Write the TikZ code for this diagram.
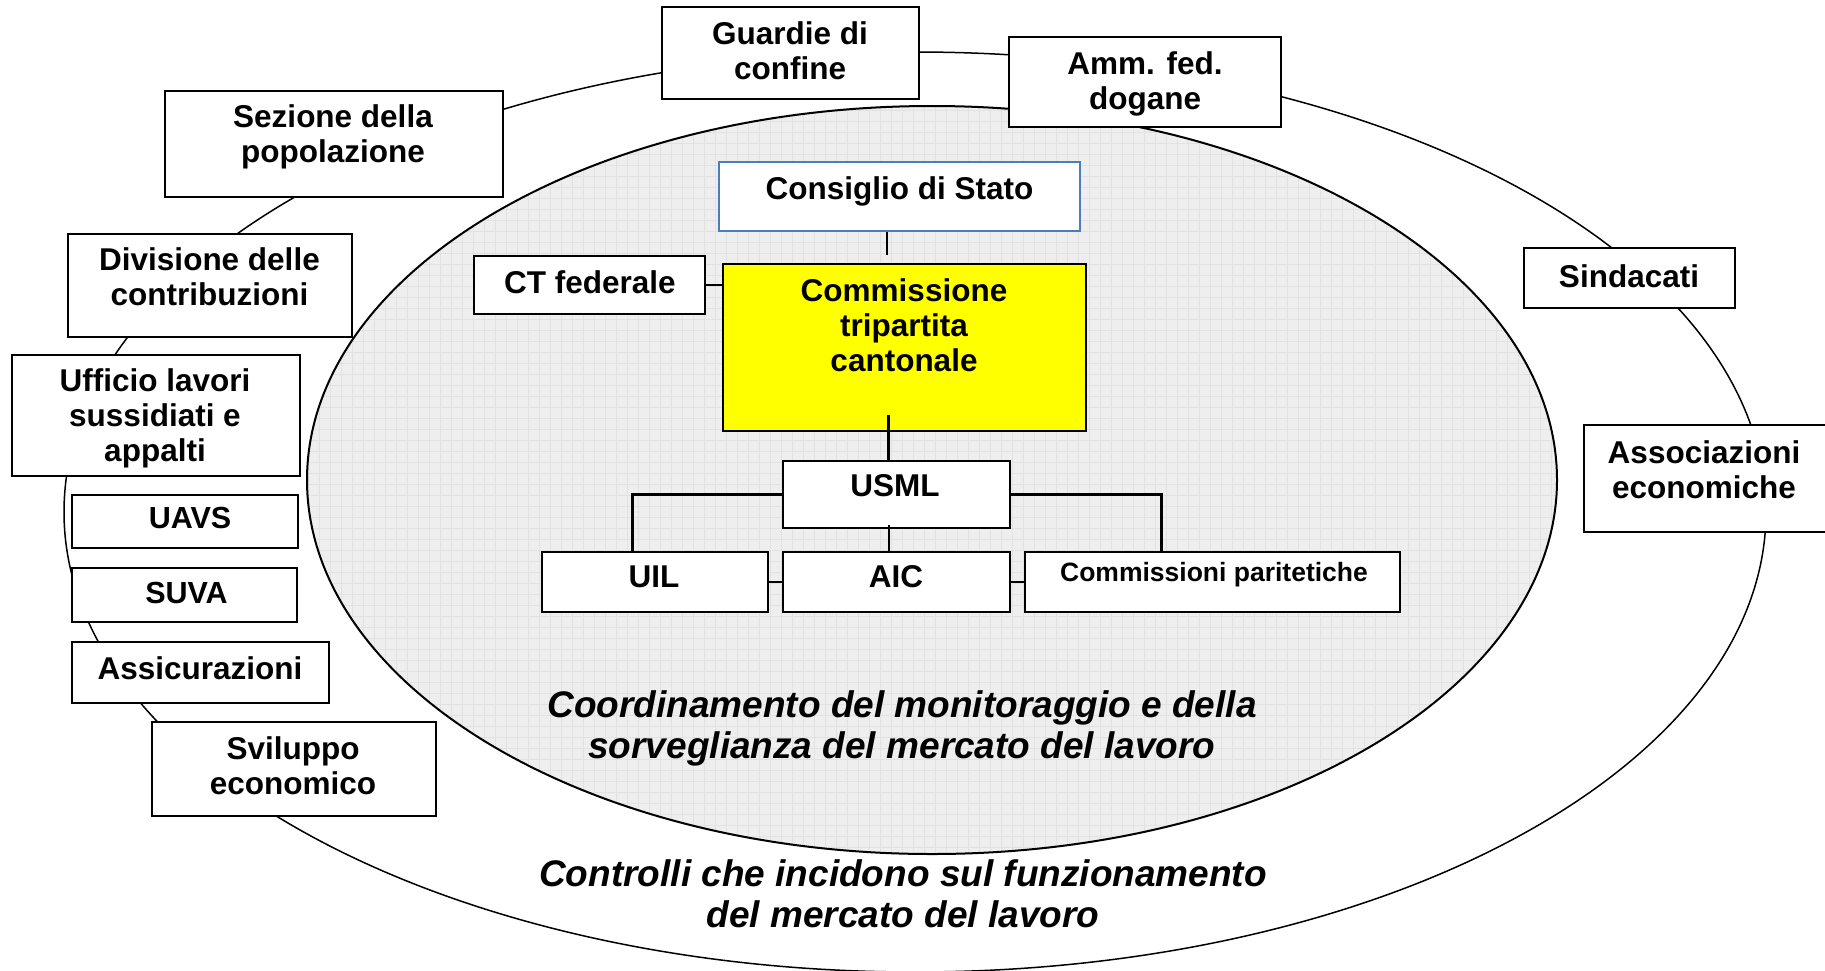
\documentclass[tikz,border=0pt]{standalone}
\usepackage{fontspec}
\setmainfont{Liberation Sans}
\definecolor{innerfill}{RGB}{238,238,238}
\definecolor{gridline}{RGB}{226,226,226}
\definecolor{consblue}{RGB}{74,126,187}
\definecolor{boxyellow}{RGB}{255,255,0}
\tikzset{
  box/.style={draw=black, fill=white, line width=1.8pt, inner sep=0pt},
  lbl/.style={font=\fontsize{31.5}{35}\selectfont\bfseries, align=center, inner sep=0pt},
  lblsm/.style={font=\fontsize{30.5}{35}\selectfont\bfseries, align=center, inner sep=0pt},
  lblcp/.style={font=\fontsize{26.5}{30}\selectfont\bfseries, align=center, inner sep=0pt},
  lblit/.style={font=\fontsize{37}{41}\selectfont\bfseries\itshape, align=center, inner sep=0pt},
  tree/.style={line width=3pt},
  thinc/.style={line width=1.3pt},
}
\begin{document}
\begin{tikzpicture}[x=1pt,y=-1pt]
\useasboundingbox (0,0) rectangle (1825,970);
% outer ellipse
\draw[line width=1.5pt] (915,512) ellipse [x radius=851, y radius=460];
% inner ellipse with grid
\begin{scope}
  \clip (932,480) ellipse [x radius=625, y radius=374];
  \fill[innerfill] (300,100) rectangle (1565,860);
  \draw[gridline, line width=0.5pt, step=11pt] (300,100) grid (1565,860);
\end{scope}
\draw[line width=2pt] (932,480) ellipse [x radius=625, y radius=374];

% outer boxes
\node[box, minimum width=257pt, minimum height=92pt] (guard) at (790.5,53) {};
\node[box, minimum width=272pt, minimum height=90pt] (amm) at (1145,82) {};
\node[box, minimum width=338pt, minimum height=106pt] (sez) at (334,144) {};
\node[box, minimum width=284pt, minimum height=103pt] (div) at (210,285.5) {};
\node[box, minimum width=288pt, minimum height=121pt] (uff) at (156,415.5) {};
\node[box, minimum width=226pt, minimum height=53pt] (uavs) at (185,521.5) {};
\node[box, minimum width=225pt, minimum height=54pt] (suva) at (184.5,595) {};
\node[box, minimum width=257pt, minimum height=61pt] (ass) at (200.5,672.5) {};
\node[box, minimum width=284pt, minimum height=94pt] (svil) at (294,769) {};
\node[box, minimum width=211pt, minimum height=60pt] (sind) at (1629.5,278) {};
\node[box, minimum width=244pt, minimum height=107pt] (asso) at (1706,478.5) {};

% inner boxes
\node[box, draw=consblue, line width=1.3pt, minimum width=361pt, minimum height=69pt] (cons) at (899.5,196.5) {};
\node[box, minimum width=231pt, minimum height=58pt] (ct) at (589.5,285) {};
\node[box, fill=boxyellow, minimum width=363pt, minimum height=167pt] (comm) at (904.5,347.5) {};
\node[box, minimum width=227pt, minimum height=67pt] (usml) at (896.5,494.5) {};
\node[box, minimum width=226pt, minimum height=60pt] (uil) at (655,582) {};
\node[box, minimum width=227pt, minimum height=60pt] (aic) at (896.5,582) {};
\node[box, minimum width=375pt, minimum height=60pt] (cp) at (1212.5,582) {};

% connectors
\draw[thinc, shorten >=8pt] ([xshift=-12.5pt]cons.south) -- ([xshift=-12.5pt]cons.south |- comm.north);
\draw[thinc] (ct.east) -- (ct.east -| comm.west);
\coordinate (ctop) at (888,415);
\draw[tree] (ctop) -- (ctop |- usml.north);
\draw[tree] (usml.west) -| ([xshift=-23pt]uil.north);
\draw[tree] (usml.east) -| ([xshift=-51.5pt]cp.north);
\draw[thinc] ([xshift=-7.5pt,yshift=4pt]usml.south) -- ([xshift=-7.5pt]aic.north);
\draw[thinc] (uil.east) -- (aic.west);
\draw[thinc] (aic.east) -- (cp.west);

% labels
\node[lbl] (tguard) at (790,51) {Guardie di\\confine};
\node[lbl] (tamm) at (1145,84) {Amm. fed.\\dogane};
\node[lbl] (tsez) at (333,136.5) {Sezione della\\popolazione};
\node[lbl] (tdiv) at (209.5,277) {Divisione delle\\contribuzioni};
\node[lbl] (tuff) at (155,418.5) {Ufficio lavori\\sussidiati e\\appalti};
\node[lblsm] (tuavs) at (190,518) {UAVS};
\node[lblsm] (tsuva) at (186.5,593) {SUVA};
\node[lbl] (tass) at (200,668) {Assicurazioni};
\node[lbl] (tsvil) at (293,765.5) {Sviluppo\\economico};
\node[lbl] (tsind) at (1629,276) {Sindacati};
\node[lbl] (tasso) at (1704,469.5) {Associazioni\\economiche};
\node[lbl] (tcons) at (899.5,191) {Consiglio di Stato};
\node[lbl] (tct) at (590,282) {CT federale};
\node[lbl] (tcomm) at (904,325) {Commissione\\tripartita\\cantonale};
\node[lbl] (tusml) at (895,486) {USML};
\node[lbl] (tuil) at (654,577) {UIL};
\node[lbl] (taic) at (896,577) {AIC};
\node[lblcp] (tcp) at (1214,575) {Commissioni paritetiche};
\node[lblit] (tcoord) at (902,728) {Coordinamento del monitoraggio e della\\sorveglianza del mercato del lavoro};
\node[lblit] (tcontr) at (903,893.5) {Controlli che incidono sul funzionamento\\del mercato del lavoro};
\end{tikzpicture}
\end{document}
